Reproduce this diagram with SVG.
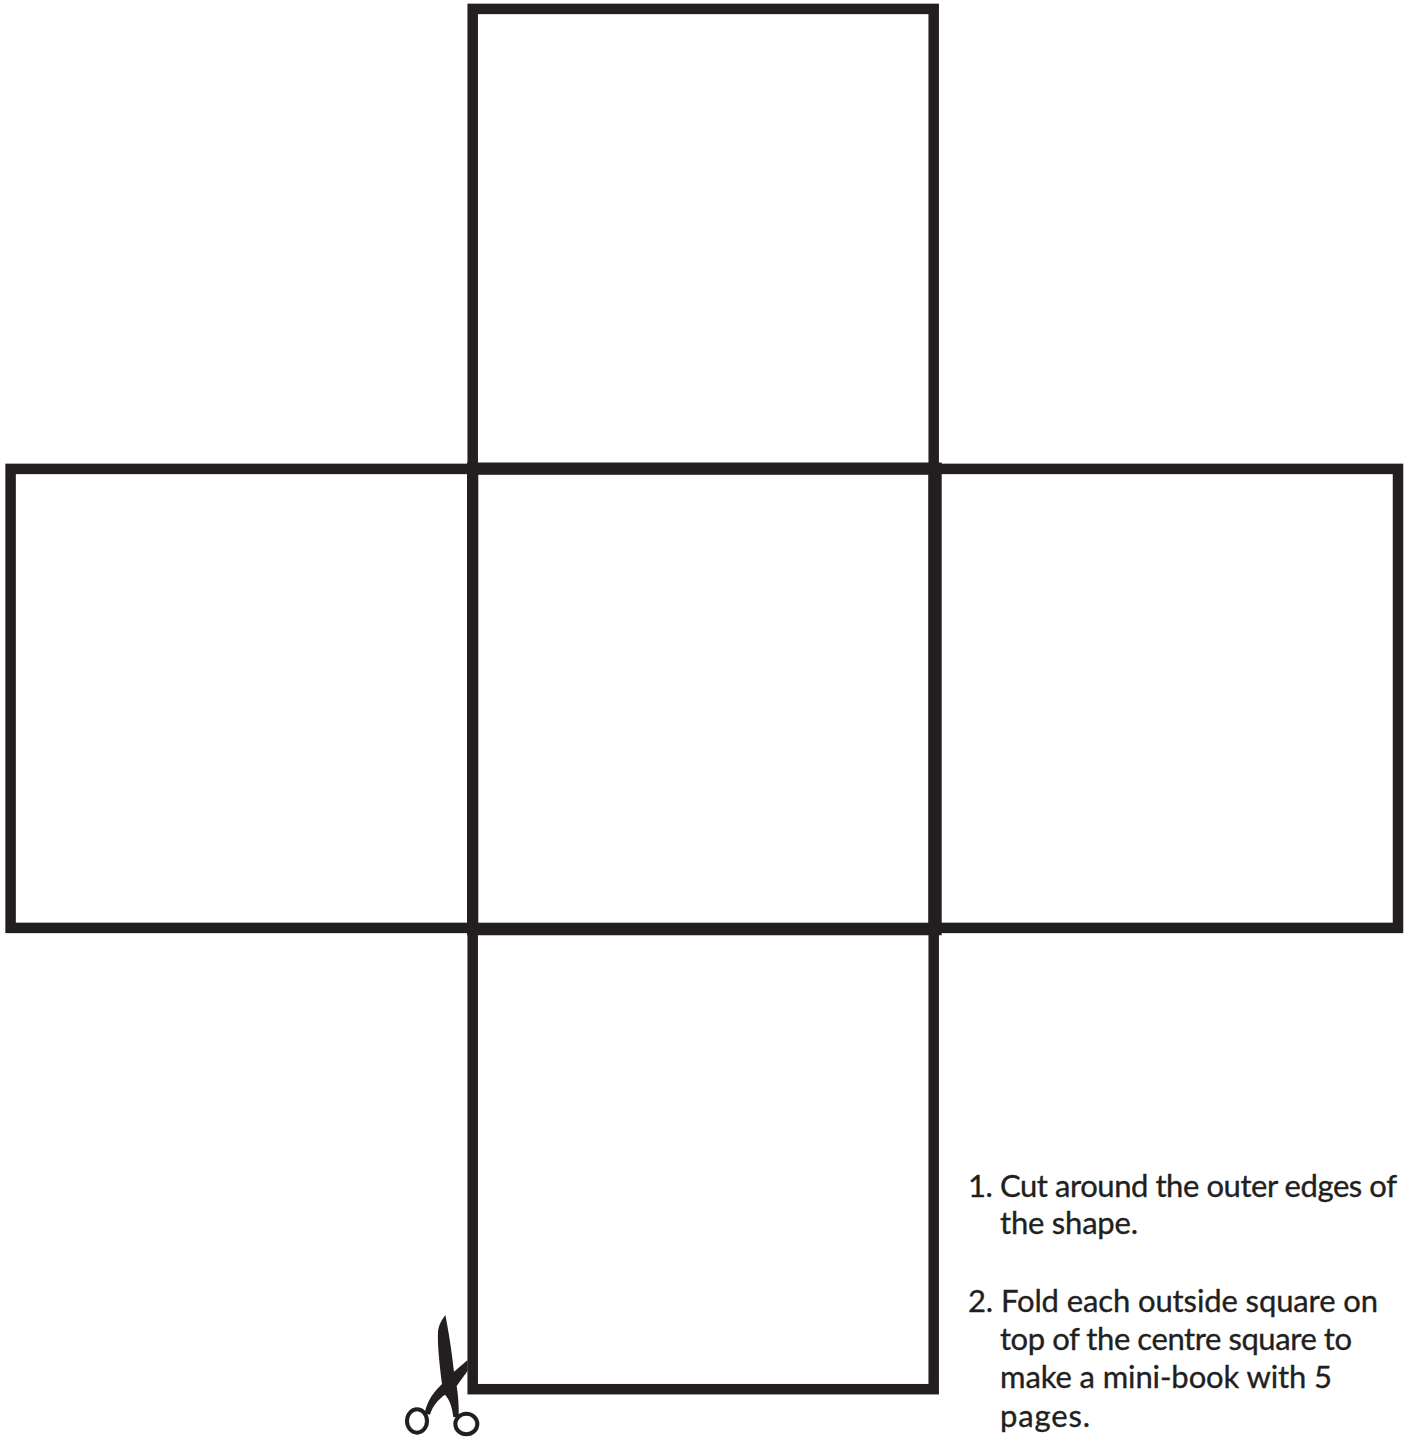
<svg xmlns="http://www.w3.org/2000/svg" width="1413" height="1440" viewBox="0 0 1413 1440">
<style>
.box{fill:none;stroke:#231f20;stroke-width:10.5;stroke-linejoin:miter}
.t{font-family:"Lato","Noto Sans",sans-serif;font-size:31px;fill:#231f20;stroke:#231f20;stroke-width:.35}
.ring{fill:none;stroke:#231f20;stroke-width:12}
</style>
<rect width="1413" height="1440" fill="#fff"/>
<g id="square-top"><rect class="box" x="472.7" y="8.9" width="461" height="460"/></g>
<g id="square-left"><rect class="box" x="10.6" y="468.9" width="462" height="459"/></g>
<g id="square-right"><rect class="box" x="934" y="468.9" width="464" height="459"/></g>
<g id="square-bottom"><rect class="box" x="472.7" y="928.2" width="461" height="461"/></g>
<g id="square-centre"><path fill="#231f20" fill-rule="evenodd" d="M467 462.5H941.7V935.3H467ZM478.3 474.7V922.7H928.3V474.7Z"/></g>
<g id="scissors" transform="translate(390 1300) scale(.33333)">
<path fill="#231f20" d="M166 45C155 60 146 75 144 95C142 130 148 190 156 252C132 275 112 300 104 340L120 344C128 318 145 298 165 284C178 298 187 322 190 352L206 350C207 320 205 290 200 258L233 212L233 180L192 215C185 150 175 90 166 45Z"/>
<ellipse class="ring" cx="81" cy="363" rx="30" ry="35"/>
<ellipse class="ring" cx="229" cy="372" rx="33" ry="31"/>
</g>
<g id="instructions">
<text class="t" x="968" y="1197" textLength="429" lengthAdjust="spacing">1. Cut around the outer edges of</text>
<text class="t" x="1000" y="1234" textLength="138" lengthAdjust="spacing">the shape.</text>
<text class="t" x="968" y="1312" textLength="410" lengthAdjust="spacing">2. Fold each outside square on</text>
<text class="t" x="1000" y="1350" textLength="352" lengthAdjust="spacing">top of the centre square to</text>
<text class="t" x="1000" y="1388" textLength="332" lengthAdjust="spacing">make a mini-book with 5</text>
<text class="t" x="1000" y="1427" textLength="90" lengthAdjust="spacing">pages.</text>
</g>
</svg>
